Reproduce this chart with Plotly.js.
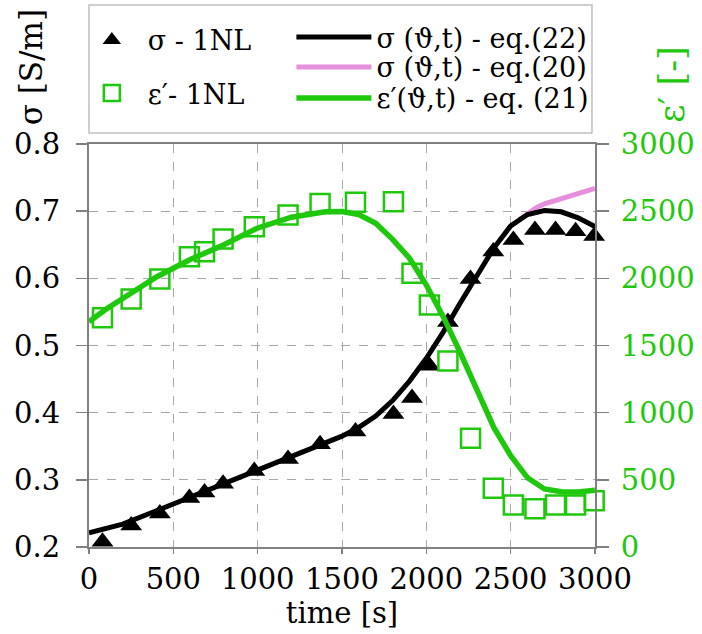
<!DOCTYPE html>
<html>
<head>
<meta charset="utf-8">
<script src="https://cdn.plot.ly/plotly-3.0.1.min.js"></script>
<style>html,body{margin:0;padding:0;background:#fff;}</style>
</head>
<body>
<div id="chart" style="width:702px;height:634px;"></div>
<script>
// measured times [s] (shared by both measurement series)
const tMeas = [80, 250, 420, 595, 685, 795, 980, 1180, 1370, 1580, 1805, 1915, 2018, 2128, 2262, 2397, 2516, 2644, 2766, 2885, 2995];
// sigma - 1NL [S/m]
const sigmaMeas = [0.208, 0.232, 0.250, 0.273, 0.281, 0.294, 0.313, 0.331, 0.353, 0.372, 0.398, 0.422, 0.470, 0.535, 0.599, 0.640, 0.657, 0.672, 0.672, 0.670, 0.663];
// eps' - 1NL [-]
const epsMeas = [1707, 1846, 1995, 2161, 2198, 2293, 2384, 2471, 2558, 2566, 2570, 2037, 1801, 1385, 809, 437, 313, 285, 313, 313, 345];

// model curves
const tModel = [0, 100, 200, 400, 600, 800, 1000, 1200, 1400, 1500, 1600, 1700, 1800, 1900, 2000, 2100, 2200, 2300, 2400, 2500, 2600, 2700, 2800, 2900, 3000];
const sigmaEq22 = [0.221, 0.227, 0.234, 0.254, 0.274, 0.294, 0.314, 0.334, 0.354, 0.365, 0.378, 0.395, 0.418, 0.447, 0.481, 0.520, 0.563, 0.604, 0.645, 0.678, 0.695, 0.701, 0.699, 0.690, 0.677];
const epsEq21 = [1677, 1770, 1850, 2010, 2140, 2250, 2375, 2455, 2495, 2497, 2475, 2410, 2290, 2150, 1950, 1715, 1450, 1160, 890, 680, 515, 432, 412, 410, 422];
const tEq20 = [2550, 2600, 2650, 2700, 2800, 2900, 3000];
const sigmaEq20 = [0.687, 0.697, 0.705, 0.711, 0.719, 0.726, 0.734];

// axis ticks
const xTicks = [0, 500, 1000, 1500, 2000, 2500, 3000];
const yTicks = [0.2, 0.3, 0.4, 0.5, 0.6, 0.7, 0.8];
const y2Ticks = [0, 500, 1000, 1500, 2000, 2500, 3000];

const FONT = "DejaVu Serif";
const GREEN = "#1fc80c";
const PINK = "#e68fdc";
const LEGFONT = {family: FONT, size: 27, color: "#000"};

const traces = [
  {x: tEq20, y: sigmaEq20, mode: "lines", name: "σ (ϑ,t) - eq.(20)", line: {color: PINK, width: 5},
   legend: "legend4", xaxis: "x", yaxis: "y"},
  {x: tModel, y: sigmaEq22, mode: "lines", name: "σ (ϑ,t) - eq.(22)", line: {color: "#000", width: 5},
   legend: "legend3", xaxis: "x", yaxis: "y"},
  {x: tMeas, y: sigmaMeas, mode: "markers", name: "σ - 1NL", cliponaxis: false,
   marker: {symbol: "triangle-up", size: 19, color: "#000"},
   legend: "legend", xaxis: "x", yaxis: "y"},
  {x: tMeas, y: epsMeas, mode: "markers", name: "ε′- 1NL", cliponaxis: false,
   marker: {symbol: "square-open", size: 19, color: GREEN, line: {color: GREEN, width: 2.5}},
   legend: "legend2", xaxis: "x", yaxis: "y2"},
  {x: tModel, y: epsEq21, mode: "lines", name: "ε′(ϑ,t) - eq. (21)", line: {color: GREEN, width: 5.5},
   legend: "legend5", xaxis: "x", yaxis: "y2"}
];

const axisCommon = {
  showline: true, linecolor: "#808080", linewidth: 2,
  ticks: "outside", tickcolor: "#808080", tickwidth: 1.5,
  zeroline: false, automargin: false
};

function leg(x, y, w) {
  return {x: x, y: y, xanchor: "left", yanchor: "top", bgcolor: "rgba(0,0,0,0)",
          borderwidth: 0, font: LEGFONT, itemwidth: w};
}

const layout = {
  width: 702, height: 634,
  margin: {l: 89, r: 107, t: 144, b: 87},
  paper_bgcolor: "#fff", plot_bgcolor: "#fff",
  font: {family: FONT, size: 29, color: "#000"},
  showlegend: true,
  xaxis: Object.assign({}, axisCommon, {
    range: [0, 3000], tickvals: xTicks, ticklen: 5, mirror: true,
    showgrid: true, gridcolor: "#a8a8a8", griddash: "dash", gridwidth: 1,
    tickfont: {family: FONT, size: 29, color: "#000"},
    title: {text: "time [s]", font: {family: FONT, size: 29, color: "#000"}, standoff: 6}
  }),
  yaxis: Object.assign({}, axisCommon, {
    range: [0.2, 0.8], tickvals: yTicks, tickformat: ".1f", ticklen: 11,
    showgrid: true, gridcolor: "#a8a8a8", griddash: "dash", gridwidth: 1,
    tickfont: {family: FONT, size: 29, color: "#000"}, ticklabelstandoff: 10
  }),
  yaxis2: Object.assign({}, axisCommon, {
    overlaying: "y", side: "right", range: [0, 3000], tickvals: y2Ticks, ticklen: 12,
    showgrid: false,
    tickfont: {family: FONT, size: 29, color: GREEN}, ticklabelstandoff: 6
  }),
  legend: leg(-0.026, 1.318, 62),
  legend2: leg(-0.026, 1.186, 62),
  legend3: leg(0.40, 1.325, 75),
  legend4: leg(0.40, 1.251, 75),
  legend5: leg(0.40, 1.174, 75),
  shapes: [
    {type: "rect", xref: "paper", yref: "paper", x0: 0, x1: 0.994, y0: 1.027, y1: 1.345,
     line: {color: "#c0c0c0", width: 1.5}, fillcolor: "rgba(0,0,0,0)"}
  ],
  annotations: [
    {text: "σ [S/m]", xref: "paper", yref: "paper", x: -0.113, y: 1.19, textangle: -90,
     xanchor: "center", yanchor: "middle",
     showarrow: false, font: {family: FONT, size: 31, color: "#000"}},
    {text: "ε′ [-]", xref: "paper", yref: "paper", x: 1.152, y: 1.147, textangle: -90,
     xanchor: "center", yanchor: "middle",
     showarrow: false, font: {family: FONT, size: 35, color: GREEN}}
  ]
};

Plotly.newPlot("chart", traces, layout, {displayModeBar: false, staticPlot: true});
</script>
</body>
</html>
